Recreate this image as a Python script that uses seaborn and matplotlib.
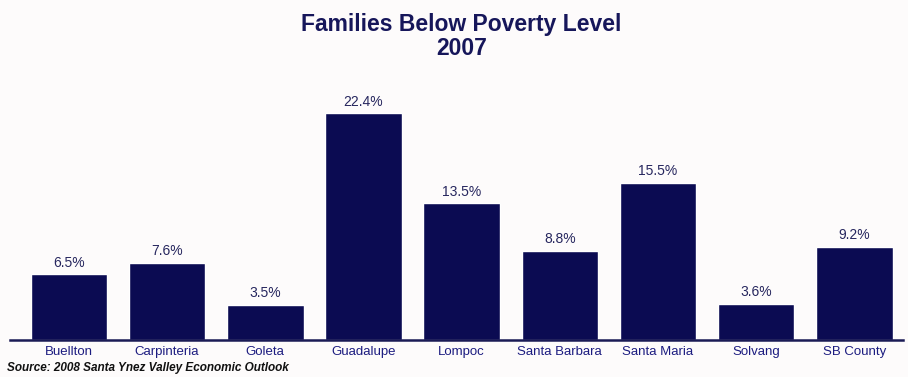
import matplotlib
matplotlib.use("Agg")
import matplotlib.pyplot as plt
import seaborn as sns
import pandas as pd

cities = ["Buellton", "Carpinteria", "Goleta", "Guadalupe", "Lompoc",
          "Santa Barbara", "Santa Maria", "Solvang", "SB County"]
pct = [6.5, 7.6, 3.5, 22.4, 13.5, 8.8, 15.5, 3.6, 9.2]
labels = ["6.5%", "7.6%", "3.5%", "22.4%", "13.5%", "8.8%", "15.5%", "3.6%", "9.2%"]

sns.set_theme(style="white")
plt.rcParams['font.family'] = ['Liberation Sans', 'DejaVu Sans']

navy = "#0b0b52"
df = pd.DataFrame({"city": cities, "pct": pct})

fig = plt.figure(figsize=(9.08, 3.77), dpi=100)
fig.patch.set_facecolor("#fdfbfb")
ax = fig.add_axes([0.011, 0.0981, 0.984, 0.6366])
ax.set_facecolor("#fdfbfb")

sns.barplot(data=df, x="city", y="pct", color=navy, saturation=1, width=0.78, ax=ax)

for i, (v, t) in enumerate(zip(pct, labels)):
    ax.text(i, v + 0.45, t, ha="center", va="bottom", fontsize=10,
            color="#26265e")

ax.set_xlim(-0.6, 8.5)
ax.set_ylim(0, 23.7)
ax.set_xlabel("")
ax.set_ylabel("")
ax.set_yticks([])
for s in ["top", "right", "left"]:
    ax.spines[s].set_visible(False)
ax.spines["bottom"].set_color("#1a1a55")
ax.spines["bottom"].set_linewidth(1.8)
ax.tick_params(axis="x", length=0, pad=4, labelsize=9.5, labelcolor="#1c1c80")

fig.text(0.508, 0.965, "Families Below Poverty Level\n2007", ha="center", va="top",
         fontsize=16.5, fontweight="bold", color="#16165a", linespacing=1.05)
fig.text(0.008, 0.024, "Source: 2008 Santa Ynez Valley Economic Outlook", ha="left",
         va="center", fontsize=8.5, fontweight="bold", fontstyle="italic", color="#111111")

fig.savefig("out.png", dpi=100, facecolor=fig.get_facecolor())
